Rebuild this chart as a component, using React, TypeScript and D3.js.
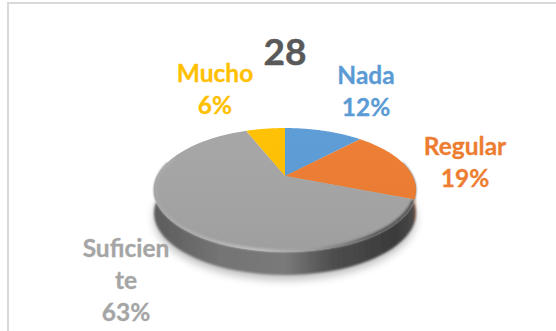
import React from 'react';
import * as d3 from 'd3';

const categories = ['Nada', 'Regular', 'Suficiente', 'Mucho'];
const values = [12, 19, 63, 6];
const colors = ['#5B9BD5', '#ED7D31', '#A5A5A5', '#FFC000'];
const sideColors = ['#3f6f9c', '#a8521c', '#777777', '#b88a00'];
const title = '28';
const labelLines = [['Nada', '12%'], ['Regular', '19%'], ['Suficien', 'te', '63%'], ['Mucho', '6%']];
const labelPos: [number, number][] = [[366, 84], [465, 155], [126, 257], [215, 82]];

const W = 556, H = 331;
const cx = 285, cy = 176, a = 58.8, b = 127.6, p = 0.2258, depth = 23;
const font = 'Lato, "Open Sans", sans-serif';

const proj = (ang: number, r = 1): [number, number] => {
  const u = Math.sin(ang) * r, v = -Math.cos(ang) * r;
  const d = 1 - p * v;
  return [cx + (b * u) / d, cy + (a * v) / d];
};
const arcPts = (a0: number, a1: number, n = 60): [number, number][] =>
  d3.range(n + 1).map((i) => proj(a0 + ((a1 - a0) * i) / n));
const line = d3.line();

const pie = d3.pie<number>().sort(null)(values);

const wallAngles: [number, number] = [Math.PI * 0.42, Math.PI * 1.58];
const wall = (a0: number, a1: number) => {
  const top = arcPts(a0, a1);
  const bottom = top.map(([x, y]) => [x, y + depth] as [number, number]).reverse();
  return line([...top, ...bottom]) + 'Z';
};

export default function App() {
  const disc = line(arcPts(0, Math.PI * 2, 180)) + 'Z';
  const regular = pie[1];
  const suf = pie[2];
  return (
    <svg width={W} height={H} style={{ position: 'absolute', left: 0, top: 0 }}>
      <defs>
        <filter id="blur" x="-20%" y="-30%" width="140%" height="160%">
          <feGaussianBlur stdDeviation="4" />
        </filter>
        <filter id="soft" x="-10%" y="-20%" width="120%" height="140%">
          <feGaussianBlur stdDeviation="1.2" />
        </filter>
        <filter id="edge" x="-5%" y="-5%" width="110%" height="110%">
          <feGaussianBlur stdDeviation="0.8" />
        </filter>
        <clipPath id="discClip">
          <path d={disc} />
        </clipPath>
        <linearGradient id="side" x1="0" x2="1" y1="0" y2="0">
          <stop offset="0" stopColor="#5c5c5c" />
          <stop offset="0.25" stopColor="#747474" />
          <stop offset="0.5" stopColor="#7a7a7a" />
          <stop offset="0.68" stopColor="#4e4e4e" />
          <stop offset="0.92" stopColor="#3a3a3a" />
          <stop offset="1" stopColor="#4a4a4a" />
        </linearGradient>
        <linearGradient id="rim" gradientUnits="userSpaceOnUse" x1={154} x2={415} y1={0} y2={0}>
          <stop offset="0" stopColor="#a8a8a8" />
          <stop offset="0.4" stopColor="#c6c6c6" />
          <stop offset="0.62" stopColor="#a0a0a0" />
          <stop offset="0.85" stopColor="#5a5a5a" />
          <stop offset="1" stopColor="#555" />
        </linearGradient>
        <linearGradient id="shade" x1="0" x2="0" y1="0" y2="1">
          <stop offset="0" stopColor="#fff" stopOpacity="0.02" />
          <stop offset="1" stopColor="#000" stopOpacity="0.04" />
        </linearGradient>
      </defs>
      <rect width={W} height={H} fill="#fff" />
      <line x1={8} x2={8} y1={3} y2={H} stroke="#d9d9d9" strokeWidth={2} />
      <line x1={7} x2={W} y1={3} y2={3} stroke="#d9d9d9" strokeWidth={2} />
      <path d={disc} fill="#000" opacity={0.25} filter="url(#blur)" transform={`translate(0,${depth + 5})`} />
      <g filter="url(#edge)">
        <path d={wall(wallAngles[0], wallAngles[1])} fill="url(#side)" />
        <path d={wall(regular.startAngle + 1.15, regular.endAngle)} fill={sideColors[1]} />
      </g>
      {pie.map((s, i) => {
        const pts = arcPts(s.startAngle, s.endAngle);
        return <path key={categories[i]} d={line([proj(0, 0), ...pts]) + 'Z'} fill={colors[i]} />;
      })}
      <g clipPath="url(#discClip)">
        <path
          d={line(arcPts(suf.startAngle + 0.02, suf.endAngle - 0.85))!}
          fill="none"
          stroke="url(#rim)"
          strokeWidth={5}
          filter="url(#soft)"
        />
      </g>
      <path d={disc} fill="url(#shade)" />
      <text x={285} y={65} textAnchor="middle" fontFamily={font} fontWeight={700} fontSize={37} stroke="#595959" strokeWidth={0.5} fill="#595959">{title}</text>
      {labelLines.map((lines, i) => (
        <text key={categories[i]} textAnchor="middle" fontFamily={font} fontWeight={700} fontSize={24.5} stroke={colors[i]} strokeWidth={0.3} fill={colors[i]}>
          {lines.map((t, j) => (
            <tspan key={j} x={labelPos[i][0]} y={labelPos[i][1] + j * 32}>{t}</tspan>
          ))}
        </text>
      ))}
    </svg>
  );
}
